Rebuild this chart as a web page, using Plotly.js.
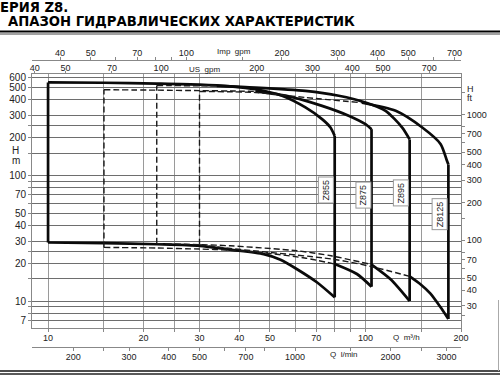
<!DOCTYPE html>
<html>
<head>
<meta charset="utf-8">
<script src="https://cdn.plot.ly/plotly-3.0.1.min.js"></script>
<style>
  html, body { margin: 0; padding: 0; background: #fff; }
  #chart { width: 500px; height: 380px; }
</style>
</head>
<body>
<div id="chart"></div>
<script>
// Z8 series hydraulic ranges: flow Q in m³/h, head H in m.
const models = ['Z855', 'Z875', 'Z895', 'Z8125'];
const qMin = [10, 15, 22, 30];
const qMax = [80, 104.5, 137.8, 182.5];

// upper (maximum head) boundary of each model
const z855TopQ  = [10, 15, 22, 30, 37.5, 45, 54.6, 64.7, 73, 77.6, 80];
const z855TopH  = [548, 545, 537, 527, 510, 484, 430, 347, 280, 240, 206];
const z875TopQ  = [15, 22, 30, 37.5, 45, 57.3, 73, 88.5, 100, 104.5];
const z875TopH  = [480, 476, 472, 469, 465, 425, 357, 298, 255, 233];
const z895TopQ  = [22, 30, 34, 45, 64.7, 82.4, 100, 115.7, 130.6, 137.8];
const z895TopH  = [518, 516, 515, 499, 470, 430, 380, 326, 240, 193];
const z8125TopQ = [30, 45, 64.7, 97.6, 124.5, 151, 172.6, 180.5, 182.5];
const z8125TopH = [465, 456, 416, 378, 326, 240, 177, 131, 122];

// lower (minimum head) boundary of each model
const z855BotQ  = [10, 15, 22, 30, 37.5, 47.8, 54, 60.9, 70.3, 80];
const z855BotH  = [29.2, 28.9, 28.3, 27.5, 25.6, 23.6, 21.3, 17.9, 14.1, 10.7];
const z875BotQ  = [15, 22, 30, 37.5, 50, 65, 80, 94, 104.5];
const z875BotH  = [26.7, 26.4, 25.9, 25.4, 23.9, 21.9, 19.7, 16.4, 13.0];
const z895BotQ  = [22, 30, 37.5, 60.9, 78, 104.5, 120, 137.8];
const z895BotH  = [28.6, 28.1, 27.5, 25.1, 22.9, 19.5, 14.9, 10.0];
const z8125BotQ = [30, 37.5, 79.3, 104.5, 137.8, 149, 160, 172, 182.5];
const z8125BotH = [28.0, 26.2, 21.5, 18.8, 15.7, 13.6, 11.5, 9.0, 7.2];

// flow up to which a boundary lies inside another model's range (drawn dashed)
const topDashTo = [null, 45, 34, 97.6];
const botDashTo = [null, 80, 104.5, 137.8];

// axis ticks
const gridQ   = [10, 15, 20, 25, 30, 40, 50, 60, 70, 80, 90, 100, 150, 200];
const labelQ  = ['10', '', '20', '', '30', '40', '50', '', '70', '', '', '100', '', '200'];
const gridH   = [7, 8, 9, 10, 15, 20, 25, 30, 40, 50, 60, 70, 80, 90, 100, 150, 200, 250, 300, 400, 500, 600];
const labelH  = ['7', '', '', '10', '', '20', '', '30', '40', '50', '', '70', '', '', '100', '', '200', '', '300', '400', '500', '600'];
const tickFt  = [20, 25, 30, 40, 50, 60, 70, 80, 100, 150, 200, 300, 400, 500, 600, 700, 800, 1000, 1500];
const labelFt = ['20', '', '30', '40', '50', '', '70', '', '100', '', '200', '300', '400', '500', '', '700', '', '1000', ''];
const tickLmin  = [200, 250, 300, 400, 500, 600, 700, 800, 1000, 1500, 2000, 2500, 3000];
const labelLmin = ['200', '', '300', '400', '500', '', '700', '', '1000', '', '2000', '', '3000'];
const tickUs  = [40, 50, 70, 100, 200, 300, 400, 500, 700];
const tickImp = [40, 50, 60, 70, 80, 90, 100, 150, 200, 300, 400, 500, 600, 700];
const labelImp = ['40', '50', '', '70', '', '', '100', '', '200', '300', '400', '500', '', '700'];

// unit conversions
const M_TO_FT = 3.28084;
const M3H_TO_LMIN = 1000 / 60;
const M3H_TO_USGPM = 4.40287;
const M3H_TO_IMPGPM = 3.66615;

const lg = Math.log10;
const qLo = 8.9, qHi = 200;   // m³/h shown
const hLo = 6.1, hHi = 640;   // m shown

const topQ = [z855TopQ, z875TopQ, z895TopQ, z8125TopQ];
const topH = [z855TopH, z875TopH, z895TopH, z8125TopH];
const botQ = [z855BotQ, z875BotQ, z895BotQ, z8125BotQ];
const botH = [z855BotH, z875BotH, z895BotH, z8125BotH];

const SOLID = { color: '#0a0a0a', width: 2.7, shape: 'spline', smoothing: 0.7 };
const DASH  = { color: '#1a1a1a', width: 1.4, shape: 'spline', smoothing: 0.7, dash: '6px,3px' };

function part(q, h, lo, hi) {
  const x = [], y = [];
  q.forEach((v, k) => { if (v >= lo && v <= hi) { x.push(v); y.push(h[k]); } });
  return { x, y };
}
function line(xy, style) {
  return { type: 'scatter', mode: 'lines', x: xy.x, y: xy.y, line: style,
           hoverinfo: 'skip', showlegend: false };
}

const traces = [];
models.forEach((m, i) => {
  const tq = topQ[i], th = topH[i], bq = botQ[i], bh = botH[i];
  // upper and lower boundaries
  [[tq, th, topDashTo[i]], [bq, bh, botDashTo[i]]].forEach(([q, h, split]) => {
    if (split === null) {
      traces.push(line(part(q, h, -Infinity, Infinity), SOLID));
    } else {
      traces.push(line(part(q, h, -Infinity, split), DASH));
      traces.push(line(part(q, h, split, Infinity), SOLID));
    }
  });
  // minimum-flow edge
  traces.push(line({ x: [qMin[i], qMin[i]], y: [bh[0], th[0]] },
    i === 0 ? Object.assign({}, SOLID, { shape: 'linear' })
            : Object.assign({}, DASH, { shape: 'linear' })));
  // maximum-flow edge
  traces.push(line({ x: [qMax[i], qMax[i]], y: [bh[bh.length - 1], th[th.length - 1]] },
    Object.assign({}, SOLID, { shape: 'linear' })));
});

// empty traces so that every secondary axis has a subplot
[['x2', 'y'], ['x3', 'y'], ['x4', 'y'], ['x', 'y2']].forEach(([xa, ya]) => {
  traces.push({ type: 'scatter', mode: 'lines', x: [], y: [], xaxis: xa, yaxis: ya,
                hoverinfo: 'skip', showlegend: false });
});

const FONT = 'Liberation Sans, Arial, Helvetica, sans-serif';
const TITLE_FONT = 'DejaVu Sans, Liberation Sans, sans-serif';
const W = 500, HGT = 380;
const px = v => v / W;            // horizontal pixel -> paper
const py = v => (HGT - v) / HGT;  // vertical pixel -> paper

const xDomain = [px(32), px(461)];
const yDomain = [py(328), py(74)];

const baseX = {
  type: 'log', domain: xDomain, showgrid: false, zeroline: false,
  showline: true, linecolor: '#888', linewidth: 1,
  ticks: 'outside', ticklen: 3, tickcolor: '#888', tickwidth: 1,
  tickfont: { family: FONT, size: 9, color: '#222' }, fixedrange: true
};

const labelAt = [76, 69, 72, 49];  // head level of the model tags

function note(x, y, text, size, extra) {
  return Object.assign({
    xref: 'paper', yref: 'paper', x: px(x), y: py(y), xanchor: 'center', yanchor: 'middle',
    text, showarrow: false, borderpad: 0,
    font: { family: FONT, size, color: '#222' }
  }, extra || {});
}

const annotations = [
  note(-1, 7.5, '<b>ЕРИЯ Z8.</b>', 13.2,
       { xanchor: 'left', font: { family: TITLE_FONT, size: 13.2, color: '#000' } }),
  note(7, 22, '<b>АПАЗОН ГИДРАВЛИЧЕСКИХ ХАРАКТЕРИСТИК</b>', 13.2,
       { xanchor: 'left', font: { family: TITLE_FONT, size: 13.2, color: '#000' } }),
  note(234, 52, 'Imp  gpm', 8),
  note(204, 69, 'US  gpm', 8),
  note(406, 337, 'Q  m³/h', 8),
  note(344, 354, 'Q  l/min', 8),
  note(15.5, 150, 'H', 10),
  note(15.5, 160, 'm', 10),
  note(470, 89, 'H', 9),
  note(470, 98.5, 'ft', 9)
];
models.forEach((m, i) => {
  annotations.push({
    xref: 'x', yref: 'y', x: lg(qMax[i]), y: lg(labelAt[i]), xshift: -8.5,
    xanchor: 'center', yanchor: 'middle',
    text: m, textangle: -90, showarrow: false,
    font: { family: FONT, size: 9, color: '#222' },
    bgcolor: '#fff', bordercolor: '#999', borderwidth: 1, borderpad: 2
  });
});

const shapes = [
  { type: 'line', xref: 'paper', yref: 'paper', x0: 0, x1: 1, y0: py(31.5), y1: py(31.5),
    line: { color: '#000', width: 2 } },
  { type: 'line', xref: 'paper', yref: 'paper', x0: 0, x1: 1, y0: py(34), y1: py(34),
    line: { color: '#444', width: 1 } },
  { type: 'line', xref: 'paper', yref: 'paper', x0: 0, x1: 1, y0: py(371), y1: py(371),
    line: { color: '#111', width: 1.6 } },
  { type: 'line', xref: 'paper', yref: 'paper', x0: 0, x1: 1, y0: py(374), y1: py(374),
    line: { color: '#222', width: 1.4 } },
  { type: 'line', xref: 'paper', yref: 'paper', x0: px(498.5), x1: px(498.5), y0: py(300), y1: py(371),
    line: { color: '#aaa', width: 1 } }
];

const layout = {
  width: W, height: HGT,
  margin: { l: 0, r: 0, t: 0, b: 0, pad: 0 },
  paper_bgcolor: '#fff', plot_bgcolor: '#fff',
  showlegend: false,
  font: { family: FONT, color: '#222' },
  xaxis: Object.assign({}, baseX, {
    anchor: 'y', range: [lg(qLo), lg(qHi)], ticklabelstandoff: -2,
    tickmode: 'array', tickvals: gridQ, ticktext: labelQ,
    showgrid: true, gridcolor: '#9a9a9a', gridwidth: 1
  }),
  xaxis2: Object.assign({}, baseX, {
    overlaying: 'x', anchor: 'free', position: py(347), side: 'bottom',
    range: [lg(qLo * M3H_TO_LMIN), lg(qHi * M3H_TO_LMIN)], ticklabelstandoff: -2,
    tickmode: 'array', tickvals: tickLmin, ticktext: labelLmin
  }),
  xaxis3: Object.assign({}, baseX, {
    overlaying: 'x', anchor: 'y', side: 'top', ticklen: 2, ticklabelstandoff: -4,
    range: [lg(qLo * M3H_TO_USGPM), lg(qHi * M3H_TO_USGPM)],
    tickmode: 'array', tickvals: tickUs, ticktext: tickUs.map(String)
  }),
  xaxis4: Object.assign({}, baseX, {
    overlaying: 'x', anchor: 'free', position: py(60), side: 'top', ticklabelstandoff: -3,
    range: [lg(qLo * M3H_TO_IMPGPM), lg(qHi * M3H_TO_IMPGPM)],
    tickmode: 'array', tickvals: tickImp, ticktext: labelImp
  }),
  yaxis: {
    type: 'log', domain: yDomain, anchor: 'x', range: [lg(hLo), lg(hHi)],
    tickmode: 'array', tickvals: gridH, ticktext: labelH,
    showgrid: true, gridcolor: '#6e6e6e', gridwidth: 1, zeroline: false,
    showline: true, linecolor: '#888', linewidth: 1,
    ticks: 'outside', ticklen: 3, tickcolor: '#888',
    tickfont: { family: FONT, size: 10, color: '#222' }, fixedrange: true
  },
  yaxis2: {
    type: 'log', overlaying: 'y', anchor: 'x', side: 'right',
    range: [lg(hLo * M_TO_FT), lg(hHi * M_TO_FT)],
    tickmode: 'array', tickvals: tickFt, ticktext: labelFt,
    showgrid: false, zeroline: false,
    showline: true, linecolor: '#888', linewidth: 1,
    ticks: 'outside', ticklen: 3, tickcolor: '#888',
    tickfont: { family: FONT, size: 9, color: '#222' }, fixedrange: true
  },
  annotations, shapes
};

Plotly.newPlot('chart', traces, layout, { staticPlot: true, displayModeBar: false });
</script>
</body>
</html>
